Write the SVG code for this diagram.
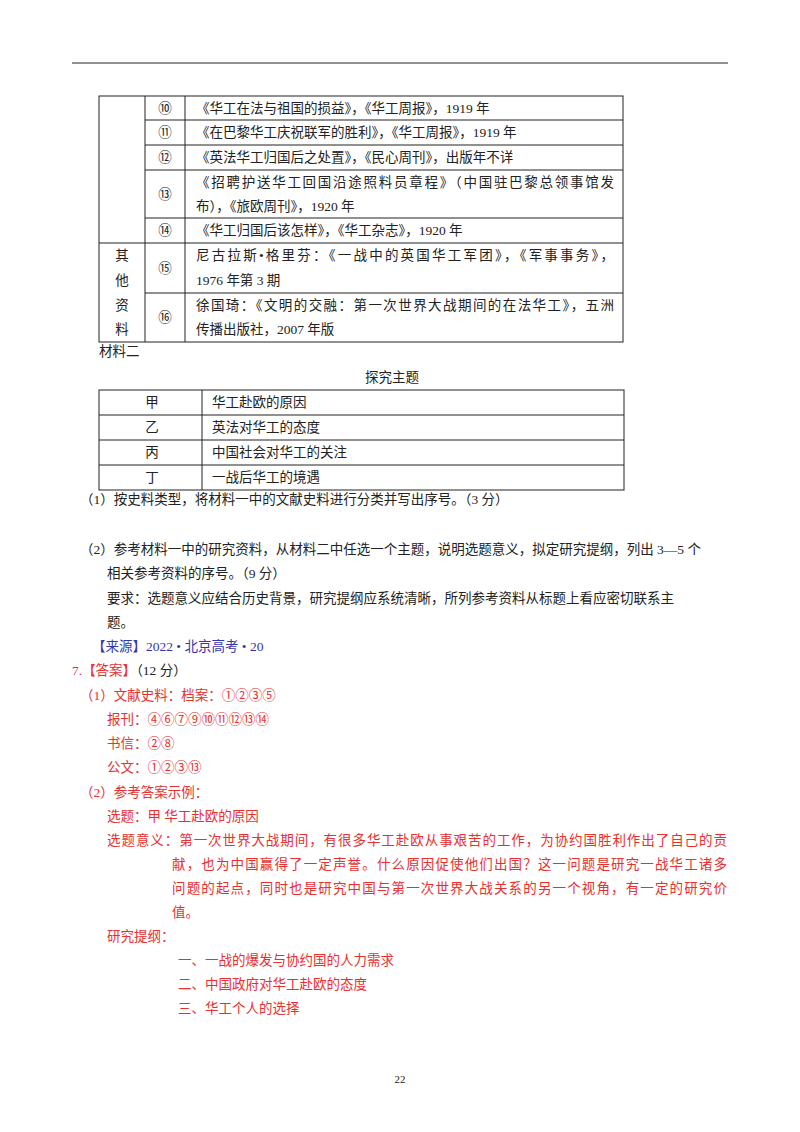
<svg xmlns="http://www.w3.org/2000/svg" width="800" height="1132" viewBox="0 0 800 1132">
<style>
text{font-family:"Liberation Serif","Noto Sans CJK SC",serif;font-size:13.5px;fill:#222}
.r{fill:#e8302f}.b{fill:#3535b0}.c{text-anchor:middle}
line{stroke:#222;stroke-width:1}
</style>
<rect width="800" height="1132" fill="#fff"/>
<line x1="72" y1="63" x2="728" y2="63" stroke-width="1.5"/>
<g id="table1" fill="none">
<rect x="99" y="96" width="524" height="246" fill="none" stroke="#222"/>
<line x1="145" y1="96" x2="145" y2="342"/><line x1="185" y1="96" x2="185" y2="342"/>
<line x1="145" y1="120" x2="623" y2="120"/><line x1="145" y1="145" x2="623" y2="145"/>
<line x1="145" y1="170" x2="623" y2="170"/><line x1="145" y1="218" x2="623" y2="218"/>
<line x1="99" y1="243" x2="623" y2="243"/><line x1="145" y1="293" x2="623" y2="293"/>
</g>
<g id="table1text">
<text x="165" y="113" class="c">⑩</text><text x="196" y="113">《华工在法与祖国的损益》，《华工周报》，1919 年</text>
<text x="165" y="137" class="c">⑪</text><text x="196" y="137">《在巴黎华工庆祝联军的胜利》，《华工周报》，1919 年</text>
<text x="165" y="162" class="c">⑫</text><text x="196" y="162">《英法华工归国后之处置》，《民心周刊》，出版年不详</text>
<text x="165" y="199" class="c">⑬</text><text x="196" y="187" textLength="418">《招聘护送华工回国沿途照料员章程》（中国驻巴黎总领事馆发</text><text x="196" y="211">布），《旅欧周刊》，1920 年</text>
<text x="165" y="235" class="c">⑭</text><text x="196" y="235">《华工归国后该怎样》，《华工杂志》，1920 年</text>
<text x="122" y="260" class="c">其</text><text x="122" y="285" class="c">他</text><text x="122" y="310" class="c">资</text><text x="122" y="334" class="c">料</text>
<text x="165" y="273" class="c">⑮</text><text x="196" y="260" textLength="418">尼古拉斯•格里芬：《一战中的英国华工军团》，《军事事务》，</text><text x="196" y="285">1976 年第 3 期</text>
<text x="165" y="322" class="c">⑯</text><text x="196" y="310" textLength="418">徐国琦：《文明的交融：第一次世界大战期间的在法华工》，五洲</text><text x="196" y="334">传播出版社，2007 年版</text>
</g>
<text x="99" y="356">材料二</text>
<text x="392" y="382" class="c">探究主题</text>
<g id="table2">
<rect x="99" y="390" width="525" height="100" fill="none" stroke="#222"/>
<line x1="202" y1="390" x2="202" y2="490"/>
<line x1="99" y1="415" x2="624" y2="415"/><line x1="99" y1="440" x2="624" y2="440"/><line x1="99" y1="465" x2="624" y2="465"/>
<text x="152" y="407" class="c">甲</text><text x="212" y="407">华工赴欧的原因</text>
<text x="152" y="432" class="c">乙</text><text x="212" y="432">英法对华工的态度</text>
<text x="152" y="457" class="c">丙</text><text x="212" y="457">中国社会对华工的关注</text>
<text x="152" y="482" class="c">丁</text><text x="212" y="482">一战后华工的境遇</text>
</g>
<text x="80" y="504">（1）按史料类型，将材料一中的文献史料进行分类并写出序号。（3 分）</text>
<text x="80" y="554">（2）参考材料一中的研究资料，从材料二中任选一个主题，说明选题意义，拟定研究提纲，列出 3—5 个</text>
<text x="107" y="578">相关参考资料的序号。（9 分）</text>
<text x="107" y="603">要求：选题意义应结合历史背景，研究提纲应系统清晰，所列参考资料从标题上看应密切联系主</text>
<text x="107" y="627">题。</text>
<text x="92" y="651" class="b">【来源】2022 • 北京高考 • 20</text>
<text x="72" y="675"><tspan class="r">7.【答案】</tspan>（12 分）</text>
<g class="r">
<text x="80" y="700" class="r">（1）文献史料：档案：①②③⑤</text>
<text x="107" y="724" class="r">报刊：④⑥⑦⑨⑩⑪⑫⑬⑭</text>
<text x="107" y="748" class="r">书信：②⑧</text>
<text x="107" y="772" class="r">公文：①②③⑬</text>
<text x="80" y="797" class="r">（2）参考答案示例：</text>
<text x="107" y="821" class="r">选题：甲  华工赴欧的原因</text>
<text x="107" y="845" class="r" textLength="620">选题意义：第一次世界大战期间，有很多华工赴欧从事艰苦的工作，为协约国胜利作出了自己的贡</text>
<text x="172" y="869" class="r" textLength="555">献，也为中国赢得了一定声誉。什么原因促使他们出国？这一问题是研究一战华工诸多</text>
<text x="172" y="893" class="r" textLength="555">问题的起点，同时也是研究中国与第一次世界大战关系的另一个视角，有一定的研究价</text>
<text x="172" y="917" class="r">值。</text>
<text x="107" y="941" class="r">研究提纲：</text>
<text x="178" y="965" class="r">一、一战的爆发与协约国的人力需求</text>
<text x="178" y="989" class="r">二、中国政府对华工赴欧的态度</text>
<text x="178" y="1013" class="r">三、华工个人的选择</text>
</g>
<text x="400" y="1083" class="c" style="font-size:11px">22</text>
</svg>
